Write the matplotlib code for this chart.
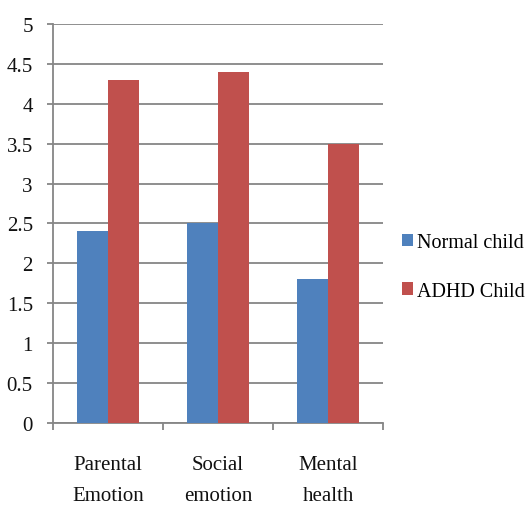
import matplotlib
matplotlib.use("Agg")
import matplotlib.pyplot as plt
import numpy as np

categories = ["Parental\nEmotion", "Social\nemotion", "Mental\nhealth"]
series_names = ["Normal child", "ADHD Child"]
normal_child = [2.4, 2.5, 1.8]
adhd_child = [4.3, 4.4, 3.5]
y_ticks = [0, 0.5, 1, 1.5, 2, 2.5, 3, 3.5, 4, 4.5, 5]
y_tick_labels = ["0", "0.5", "1", "1.5", "2", "2.5", "3", "3.5", "4", "4.5", "5"]

plt.rcParams['font.family'] = ['Liberation Serif', 'DejaVu Serif']

fig = plt.figure(figsize=(5.29, 5.10), dpi=100)
ax = fig.add_axes([53/529, 1-424/510, 330/529, 399/510])

x = np.arange(len(categories))
w = 0.28
b1 = ax.bar(x - w/2, normal_child, w, color="#4F81BD", label=series_names[0], zorder=3)
b2 = ax.bar(x + w/2, adhd_child, w, color="#C0504D", label=series_names[1], zorder=3)

ax.set_xlim(-0.5, len(categories) - 0.5)
ax.set_ylim(0, 5)
ax.set_yticks(y_ticks)
ax.set_yticklabels(y_tick_labels)
ax.set_xticks(x)
ax.set_xticklabels(categories, linespacing=1.85)
ax.set_xticks(np.arange(len(categories) + 1) - 0.5, minor=True)

grid_c = "#868686"
ax.yaxis.grid(True, color=grid_c, linewidth=1.3, zorder=0)
for s in ["top", "right"]:
    ax.spines[s].set_visible(False)
ax.spines["left"].set_color(grid_c)
ax.spines["bottom"].set_color(grid_c)
ax.spines["left"].set_linewidth(1.3)
ax.spines["bottom"].set_linewidth(1.3)

ax.tick_params(axis="y", length=4.5, width=1.3, color=grid_c, pad=10, labelsize=15, labelcolor="#111111")
ax.tick_params(axis="x", which="major", length=0, pad=23, labelsize=15, labelcolor="#111111")
ax.tick_params(axis="x", which="minor", length=5, width=1.3, color=grid_c)

leg = fig.legend(handles=[b1, b2], labels=series_names, loc="center left",
                 bbox_to_anchor=(384/529, 1-268/510), frameon=False, fontsize=14.5,
                 handlelength=0.55, handleheight=0.55, handletextpad=0.2, labelspacing=1.45)

fig.savefig("out.png", dpi=100)
